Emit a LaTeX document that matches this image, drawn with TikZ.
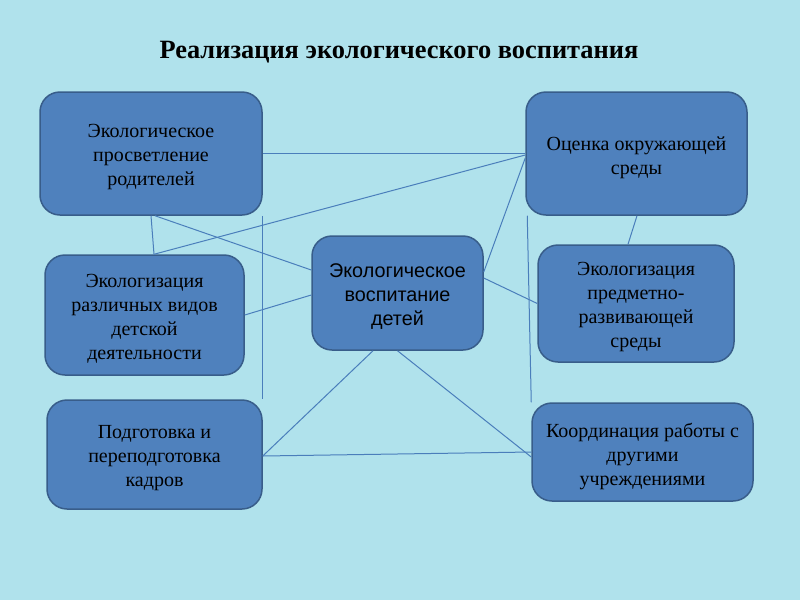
\documentclass[tikz,border=0pt]{standalone}
\usepackage{fontspec}
\setmainfont{Liberation Serif}
\setsansfont{Liberation Sans}
\usetikzlibrary{calc}
\definecolor{bgcol}{RGB}{176,226,236}
\definecolor{boxfill}{RGB}{79,129,189}
\definecolor{boxline}{RGB}{56,93,138}
\definecolor{linkcol}{RGB}{74,126,187}
\tikzset{
  box/.style={draw=boxline, line width=1.5pt, fill=boxfill, rounded corners=20pt, inner sep=0pt},
  boxtext/.style={align=center, inner sep=0pt, text=black, font=\fontsize{20}{24}\selectfont},
  sanstext/.style={boxtext, font=\sffamily\fontsize{19.8}{24}\selectfont},
  link/.style={draw=linkcol, line width=1pt},
}
\begin{document}
\begin{tikzpicture}[x=1pt,y=-1pt]
\fill[bgcol] (0,0) rectangle (800,600);
\useasboundingbox (0,0) rectangle (800,600);
\node[font=\bfseries\fontsize{26.4}{30}\selectfont] (title) at (399,52) {Реализация экологического воспитания};

\node[box, minimum width=222pt, minimum height=123pt] (b1) at (151,153.5) {};
\node[box, minimum width=221pt, minimum height=123pt] (b2) at (636.5,153.5) {};
\node[box, minimum width=199pt, minimum height=120pt] (b3) at (144.5,315) {};
\node[box, minimum width=171pt, minimum height=114pt] (b4) at (397.5,293) {};
\node[box, minimum width=196pt, minimum height=117pt] (b5) at (636,303.5) {};
\node[box, minimum width=215pt, minimum height=109pt] (b6) at (154.5,454.5) {};
\node[box, minimum width=221pt, minimum height=98pt] (b7) at (642.5,452) {};

\node[boxtext] (t1) at ($(b1.center)+(0,4)$) {Экологическое\\просветление\\родителей};
\node[boxtext] (t2) at ($(b2.center)+(0,4)$) {Оценка окружающей\\среды};
\node[boxtext] (t3) at ($(b3.center)+(0,4)$) {Экологизация\\различных видов\\детской\\деятельности};
\node[sanstext] (t4) at ($(b4.center)+(0,4)$) {Экологическое\\воспитание\\детей};
\node[boxtext] (t5) at ($(b5.center)+(0,4)$) {Экологизация\\предметно-\\развивающей\\среды};
\node[boxtext] (t6) at ($(b6.center)+(0,4)$) {Подготовка и\\переподготовка\\кадров};
\node[boxtext] (t7) at ($(b7.center)+(0,4)$) {Координация работы с\\другими\\учреждениями};

\draw[link] (b1.east) -- (b2.west);
\draw[link] (b1.south) -- ($(b3.north)+(9.5,0)$);
\draw[link] ($(b1.south)+(4,0)$) -- ($(b4.west)+(0,-23)$);
\draw[link] ($(b3.north)+(9.5,0)$) -- ($(b2.west)+(0,1.5)$);
\draw[link] ($(b2.west)+(0,4.5)$) -- ($(b4.east)+(0,-21)$);
\draw[link] ($(b4.east)+(0,-15)$) -- (b5.west);
\draw[link] (b3.east) -- ($(b4.west)+(0,2)$);
\draw[link] (b1.south east) -- (b6.north east);
\draw[link] ($(b2.south west)+(2,0)$) -- (b7.north west);
\draw[link] ($(b2.south)+(0.5,0)$) -- ($(b5.north)+(-8,0)$);
\draw[link] ($(b4.south)+(-24.5,0)$) -- ($(b6.east)+(0,1.5)$);
\draw[link] (b4.south) -- ($(b7.west)+(0,5)$);
\draw[link] ($(b6.east)+(0,1.5)$) -- (b7.west);
\end{tikzpicture}
\end{document}
